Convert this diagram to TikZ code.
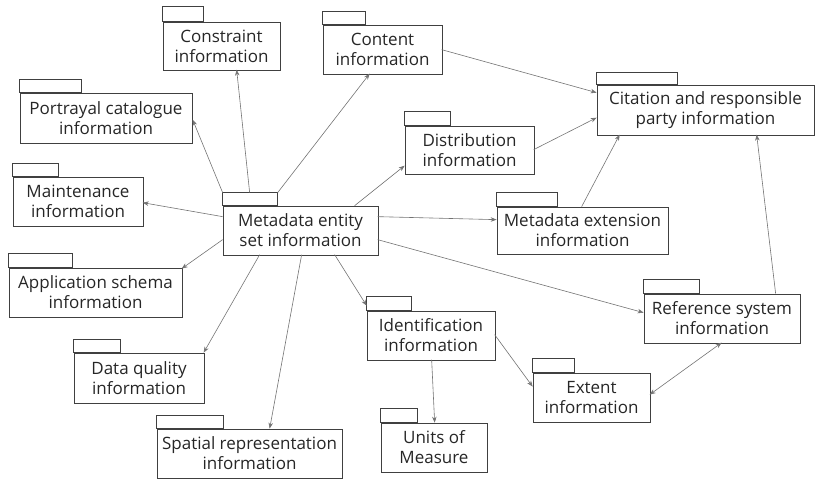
\documentclass[tikz,border=0pt]{standalone}
\usepackage{fontspec}
\setmainfont{Open Sans}
\usetikzlibrary{arrows.meta}

\tikzset{
  pkg/.style={draw=black!75, line width=0.7pt, align=center, inner sep=0pt,
    font=\fontsize{17}{20}\selectfont, text=black!85},
  pkgtab/.style={draw=black!75, line width=0.7pt},
  dep/.style={draw=black!55, line width=0.6pt, -{Stealth[length=6pt,width=4.5pt]}},
}

\begin{document}
\begin{tikzpicture}[x=1pt,y=-1pt]
    \useasboundingbox (0,0) rectangle (817,479);

    % Packages
    \node[pkg, minimum width=155pt, minimum height=49pt] (entity) at (300.5,230.5) {Metadata entity\\set information};
    \node[pkg, minimum width=117pt, minimum height=48pt] (constraint) at (221.5,46) {Constraint\\information};
    \node[pkg, minimum width=172pt, minimum height=50pt] (portrayal) at (106,118) {Portrayal catalogue\\information};
    \node[pkg, minimum width=130pt, minimum height=49pt] (maintenance) at (78,201.5) {Maintenance\\information};
    \node[pkg, minimum width=119pt, minimum height=49pt] (content) at (382.5,49.5) {Content\\information};
    \node[pkg, minimum width=129pt, minimum height=48pt] (distribution) at (469.5,150) {Distribution\\information};
    \node[pkg, minimum width=171pt, minimum height=47pt] (extension) at (582.5,230.5) {Metadata extension\\information};
    \node[pkg, minimum width=217pt, minimum height=50pt] (citation) at (705.5,110) {Citation and responsible\\party information};
    \node[pkg, minimum width=156pt, minimum height=49pt] (reference) at (722,318.5) {Reference system\\information};
    \node[pkg, minimum width=128pt, minimum height=49pt] (identification) at (431,335.5) {Identification\\information};
    \node[pkg, minimum width=117pt, minimum height=49pt] (extent) at (591.5,397.5) {Extent\\information};
    \node[pkg, minimum width=106pt, minimum height=49pt] (units) at (434,447.5) {Units of\\Measure};
    \node[pkg, minimum width=173pt, minimum height=49pt] (application) at (95.5,292.5) {Application schema\\information};
    \node[pkg, minimum width=130pt, minimum height=50pt] (dataquality) at (139,378) {Data quality\\information};
    \node[pkg, minimum width=185pt, minimum height=49pt] (spatial) at (249.5,453.5) {Spatial representation\\information};

    % Folder tabs
    \draw[pkgtab] (entity.north west) rectangle ++(55,-13);
    \draw[pkgtab] (constraint.north west) rectangle ++(41,-15);
    \draw[pkgtab] (portrayal.north west) rectangle ++(62,-13);
    \draw[pkgtab] (maintenance.north west) rectangle ++(46,-13);
    \draw[pkgtab] (content.north west) rectangle ++(43,-13);
    \draw[pkgtab] (distribution.north west) rectangle ++(46,-14);
    \draw[pkgtab] (extension.north west) rectangle ++(61,-14);
    \draw[pkgtab] (citation.north west) rectangle ++(81,-12);
    \draw[pkgtab] (reference.north west) rectangle ++(56,-14);
    \draw[pkgtab] (identification.north west) rectangle ++(45,-14);
    \draw[pkgtab] (extent.north west) rectangle ++(42,-14);
    \draw[pkgtab] (units.north west) rectangle ++(37,-14);
    \draw[pkgtab] (application.north west) rectangle ++(64,-14);
    \draw[pkgtab] (dataquality.north west) rectangle ++(47,-13);
    \draw[pkgtab] (spatial.north west) rectangle ++(67,-13);

    % Dependencies
    \draw[dep] ([shift={(27,-13)}]entity.north west) -- ([shift={(74,48)}]constraint.north west);
    \draw[dep] ([shift={(0,-13)}]entity.north west) -- ([shift={(173,27)}]portrayal.north west);
    \draw[dep] ([shift={(0,11)}]entity.north west) -- ([shift={(130,26)}]maintenance.north west);
    \draw[dep] ([shift={(55,-13)}]entity.north west) -- ([shift={(47,49)}]content.north west);
    \draw[dep] ([shift={(132,0)}]entity.north west) -- ([shift={(0,40)}]distribution.north west);
    \draw[dep] ([shift={(155,11)}]entity.north west) -- ([shift={(0,13)}]extension.north west);
    \draw[dep] ([shift={(0,34)}]entity.north west) -- ([shift={(173,1)}]application.north west);
    \draw[dep] ([shift={(37,49)}]entity.north west) -- ([shift={(130,0)}]dataquality.north west);
    \draw[dep] ([shift={(79,49)}]entity.north west) -- ([shift={(113,0)}]spatial.north west);
    \draw[dep] ([shift={(112,49)}]entity.north west) -- ([shift={(0,-5)}]identification.north west);
    \draw[dep] ([shift={(155,34)}]entity.north west) -- ([shift={(0,19)}]reference.north west);
    \draw[dep] ([shift={(119,25)}]content.north west) -- ([shift={(0,8)}]citation.north west);
    \draw[dep] ([shift={(129,24)}]distribution.north west) -- ([shift={(0,33)}]citation.north west);
    \draw[dep] ([shift={(85,0)}]extension.north west) -- ([shift={(23,50)}]citation.north west);
    \draw[dep] ([shift={(132,0)}]reference.north west) -- ([shift={(160,50)}]citation.north west);
    \draw[dep] ([shift={(65,49)}]identification.north west) -- ([shift={(54,0)}]units.north west);
    \draw[dep] ([shift={(128,24)}]identification.north west) -- ([shift={(0,14)}]extent.north west);
    \draw[dep, {Stealth[length=6pt,width=4.5pt]}-{Stealth[length=6pt,width=4.5pt]}] ([shift={(117,22)}]extent.north west) -- ([shift={(78,49)}]reference.north west);
\end{tikzpicture}
\end{document}
